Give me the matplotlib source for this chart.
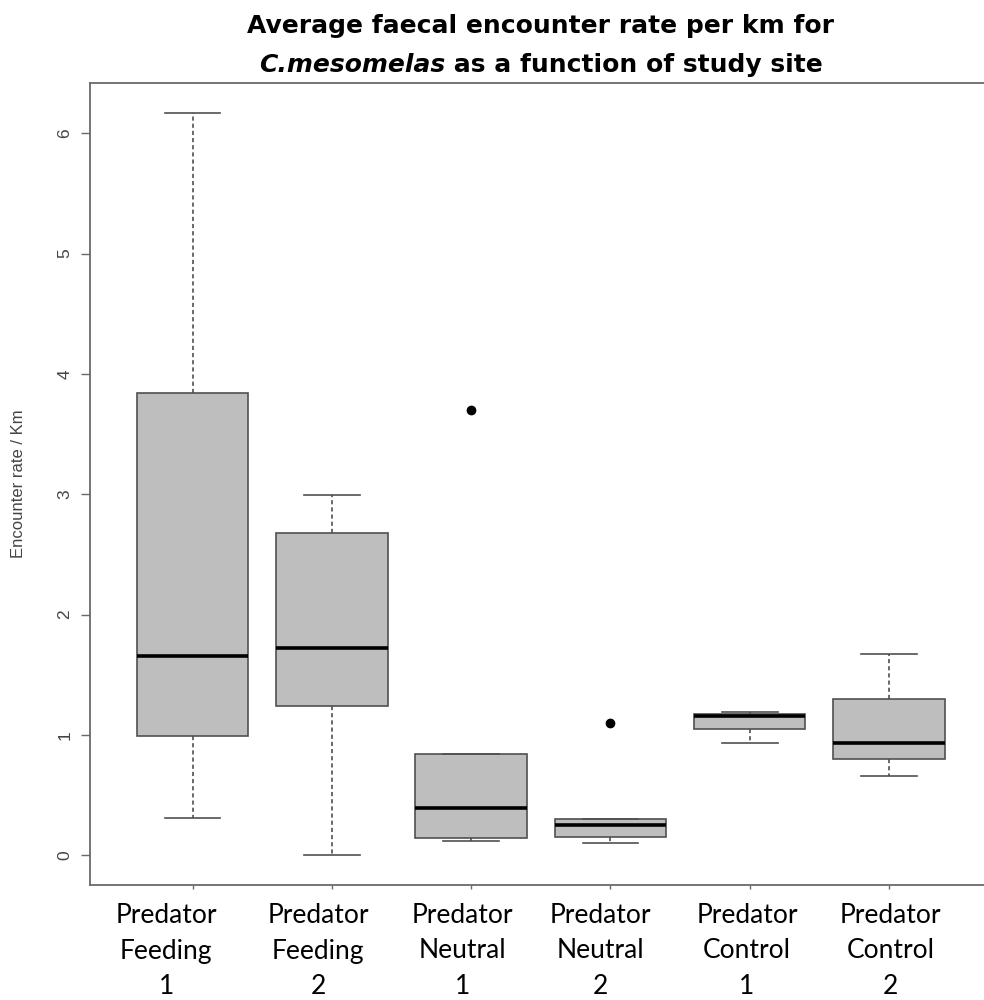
# Boxplot: faecal encounter rate per km by study site

import matplotlib

matplotlib.use("Agg")
import matplotlib.pyplot as plt

# 데이터
site_lines = [
    ["Predator", "Feeding", "1"],
    ["Predator", "Feeding", "2"],
    ["Predator", "Neutral", "1"],
    ["Predator", "Neutral", "2"],
    ["Predator", "Control", "1"],
    ["Predator", "Control", "2"],
]
whislo = [0.31, 0.00, 0.12, 0.10, 0.93, 0.66]
q1 = [0.99, 1.24, 0.14, 0.15, 1.05, 0.80]
med = [1.66, 1.72, 0.39, 0.25, 1.16, 0.93]
q3 = [3.84, 2.68, 0.84, 0.30, 1.17, 1.30]
whishi = [6.17, 2.99, 0.84, 0.30, 1.19, 1.67]
fliers = [[], [], [3.70], [1.10], [], []]
yticks = [0, 1, 2, 3, 4, 5, 6]

# 라벨 가로 위치 (손으로 옮겨 놓은 듯한 위치)
label_shift = [-0.19, -0.10, -0.06, -0.07, -0.02, 0.01]

line_col = "#505050"

fig = plt.figure(figsize=(9.84, 10), dpi=100)
ax = fig.add_axes([0.091, 0.115, 0.9172, 0.802])

stats = []
for i in range(len(med)):
    stats.append(
        {
            "whislo": whislo[i],
            "q1": q1[i],
            "med": med[i],
            "q3": q3[i],
            "whishi": whishi[i],
            "fliers": fliers[i],
        }
    )

pos = list(range(1, len(med) + 1))
ax.bxp(
    stats,
    positions=pos,
    widths=0.8,
    capwidths=0.4,
    patch_artist=True,
    boxprops=dict(facecolor="#bebebe", edgecolor=line_col, linewidth=1.2),
    medianprops=dict(color="black", linewidth=2.6, solid_capstyle="butt"),
    whiskerprops=dict(color=line_col, linewidth=1.2, linestyle=(0, (2.5, 1.8))),
    capprops=dict(color=line_col, linewidth=1.2),
    flierprops=dict(
        marker="o", markerfacecolor="black", markeredgecolor="black", markersize=6
    ),
)

# R 스타일 축 범위 (4% 여백)
lo = min(whislo + [v for f in fliers for v in f])
hi = max(whishi + [v for f in fliers for v in f])
pad = (hi - lo) * 0.04
ax.set_ylim(lo - pad, hi + pad)
ax.set_xlim(0.5 - 0.24, len(med) + 0.5 + 0.24)

for s in ax.spines.values():
    s.set_color("#6a6a6a")
    s.set_linewidth(1.3)

ax.set_yticks(yticks)
ax.set_yticklabels([str(v) for v in yticks], rotation=90, va="center",
                   fontsize=12.5, family="Liberation Sans", color="#444444")
ax.tick_params(axis="y", length=6.5, width=1.0, color="#6a6a6a", pad=6)
ax.set_xticks(pos)
ax.set_xticklabels([])
ax.tick_params(axis="x", length=3, width=1.0, color="#6a6a6a")

ax.set_ylabel("Encounter rate / Km", fontsize=12, family="Liberation Sans",
              color="#444444")
ax.yaxis.set_label_coords(-0.07, 0.5)

# x 라벨 (세 줄)
for i, lines in enumerate(site_lines):
    for j, txt in enumerate(lines):
        ax.text(pos[i] + label_shift[i], 0, txt,
                transform=ax.get_xaxis_transform() + matplotlib.transforms.ScaledTranslation(
                    0, -(38 + 35.5 * j) / 100, fig.dpi_scale_trans),
                ha="center", va="baseline", fontsize=19, family="Lato",
                color="black")

# 제목
xc = ax.get_position().x0 + ax.get_position().width / 2
fig.text(xc, 0.967, "Average faecal encounter rate per km for",
         ha="center", va="baseline", fontsize=18, fontweight="bold")
t1 = fig.text(0, 0.928, "C.mesomelas", ha="left", va="baseline",
              fontsize=18, fontweight="bold", style="italic")
t2 = fig.text(0, 0.928, " as a function of study site", ha="left",
              va="baseline", fontsize=18, fontweight="bold")
r = fig.canvas.get_renderer()
w1 = t1.get_window_extent(r).width / fig.bbox.width
w2 = t2.get_window_extent(r).width / fig.bbox.width
t1.set_x(xc - (w1 + w2) / 2)
t2.set_x(xc - (w1 + w2) / 2 + w1)

plt.savefig("out.png", dpi=100)
plt.close()
